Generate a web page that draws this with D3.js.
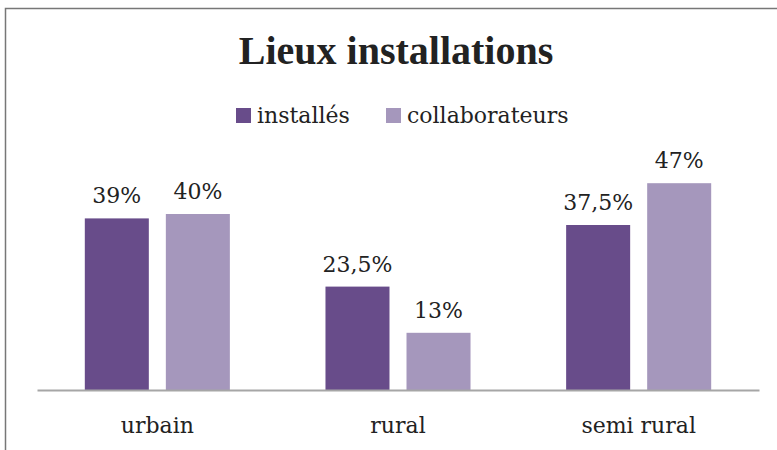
<!DOCTYPE html>
<html>
<head>
<meta charset="utf-8">
<script src="https://cdn.jsdelivr.net/npm/d3@7"></script>
<style>
  body { margin: 0; background: #fff; }
  text { font-family: "DejaVu Serif", serif; fill: #222; }
</style>
</head>
<body>
<div id="chart"></div>
<script>
// chart data
let categories = ["urbain", "rural", "semi rural"];
let seriesNames = ["installés", "collaborateurs"];
let installes = [39, 23.5, 37.5];
let collaborateurs = [40, 13, 47];
let valueLabels = [["39%", "23,5%", "37,5%"], ["40%", "13%", "47%"]];
let colors = ["#684c8a", "#a597bc"];

let width = 777;
let height = 450;
let margin = ({top: 170, right: 18, bottom: 60, left: 37});

let svg = d3.select("#chart").append("svg")
  .attr("width", width).attr("height", height);

// outer frame (cropped at bottom and right)
svg.append("path")
  .attr("d", "M5.5,450 V8.5 H777")
  .attr("fill", "none").attr("stroke", "#777").attr("stroke-width", 1.5);

let xScale = d3.scaleBand()
  .domain(categories)
  .range([margin.left, width - margin.right]);

let inner = d3.scaleBand()
  .domain([0, 1])
  .range([0, xScale.bandwidth()])
  .paddingInner(0.21).paddingOuter(0.59);

let yScale = d3.scaleLinear()
  .domain([0, 50])
  .range([height - margin.bottom, margin.top]);

let rows = [];
categories.forEach((c, i) => {
  [installes[i], collaborateurs[i]].forEach((v, s) => {
    rows.push({cat: c, s: s, v: v, label: valueLabels[s][i]});
  });
});

svg.append("g").selectAll("rect")
  .data(rows).enter()
  .append("rect")
  .attr("x", d => xScale(d.cat) + inner(d.s))
  .attr("y", d => yScale(d.v))
  .attr("width", inner.bandwidth())
  .attr("height", d => yScale(0) - yScale(d.v))
  .attr("fill", d => colors[d.s]);

svg.append("g").selectAll("text")
  .data(rows).enter()
  .append("text")
  .attr("x", d => xScale(d.cat) + inner(d.s) + inner.bandwidth() / 2)
  .attr("y", d => yScale(d.v) - 15)
  .attr("text-anchor", "middle")
  .style("font-size", "22px")
  .text(d => d.label);

// x axis
let xAxis = g => g
  .attr("transform", `translate(0,${height - margin.bottom})`)
  .call(d3.axisBottom(xScale).tickSize(0).tickSizeOuter(0).tickPadding(27))
  .call(g => g.select(".domain").attr("stroke", "#a6a6a6").attr("stroke-width", 2))
  .call(g => g.selectAll("text")
    .style("font-family", "'DejaVu Serif', serif")
    .style("font-size", "22px").attr("fill", "#222"));
svg.append("g").call(xAxis);

// title
svg.append("text")
  .attr("x", 396).attr("y", 64)
  .attr("text-anchor", "middle")
  .style("font-family", "'Liberation Serif', serif")
  .style("font-size", "40px").style("font-weight", "bold")
  .text("Lieux installations");

// legend
let legendX = [236, 386];
seriesNames.forEach((n, i) => {
  svg.append("rect")
    .attr("x", legendX[i]).attr("y", 108)
    .attr("width", 15).attr("height", 15)
    .attr("fill", colors[i]);
  svg.append("text")
    .attr("x", legendX[i] + 21).attr("y", 123)
    .style("font-size", "22px")
    .text(n);
});
</script>
</body>
</html>
